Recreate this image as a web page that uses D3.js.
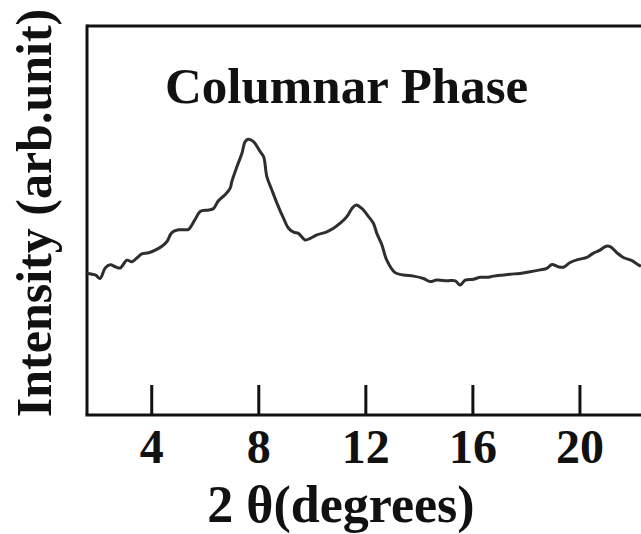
<!DOCTYPE html>
<html>
<head>
<meta charset="utf-8">
<script src="https://cdn.jsdelivr.net/npm/d3@7"></script>
<style>
  html, body { margin: 0; padding: 0; background: #fff; }
  svg { display: block; }
  text { font-family: "Liberation Serif", "Times New Roman", serif; font-weight: bold; fill: #111; }
</style>
</head>
<body>
<svg id="chart" width="641" height="534"></svg>
<script>
// 2θ (degrees)
const twoTheta = [1.60,1.91,2.09,2.28,2.47,2.66,2.84,3.09,3.28,3.47,3.65,3.90,4.15,4.40,4.59,4.77,5.02,5.27,5.39,5.64,5.83,6.14,6.33,6.51,6.76,6.95,7.01,
  7.20,7.39,7.51,7.63,7.82,8.07,8.20,8.32,8.51,8.70,8.94,9.13,9.32,9.50,9.75,9.94,10.19,10.56,10.81,11.06,11.31,11.50,11.66,11.87,12.12,12.30,12.43,12.62,
  12.80,13.11,13.42,13.80,14.17,14.42,14.67,15.05,15.36,15.54,15.73,16.04,16.29,16.54,16.79,17.16,
  17.41,17.78,18.16,18.53,18.78,18.97,19.21,19.40,19.65,19.96,20.28,20.52,20.77,21.00,21.15,21.40,21.64,21.96,22.20,22.30];
// Intensity (arb. unit)
const intensity = [36.4,36.0,35.1,37.8,38.6,38.1,37.8,39.8,39.4,40.4,41.4,41.7,42.4,43.4,44.6,46.9,47.6,47.6,47.7,50.3,52.3,52.7,53.1,55.1,56.6,58.3,60.0,
  63.8,67.3,70.3,70.9,70.3,67.7,66.4,61.3,57.8,54.4,50.6,48.0,47.0,46.7,45.0,45.4,46.3,47.1,48.0,49.3,51.0,53.1,54.0,53.1,51.0,49.3,46.7,43.7,
  39.8,36.6,36.0,35.7,35.1,34.3,34.7,34.5,34.5,33.4,34.7,34.9,35.4,35.4,35.7,36.0,
  36.2,36.4,36.8,37.3,37.7,38.7,38.1,38.0,39.2,40.0,40.5,41.6,42.4,43.4,43.3,41.7,40.5,39.7,38.6,38.3];
const xTicks = [4, 8, 12, 16, 20];
const titleText = "Columnar Phase";
const xLabel = "2 θ(degrees)";
const yLabel = "Intensity (arb.unit)";

(function () {
const svg = d3.select("#chart");
const mLeft = 87, mRight = 641, mTop = 26, mBottom = 415;

const x = d3.scaleLinear().domain([1.6, 22.3]).range([mLeft, mRight]);
const y = d3.scaleLinear().domain([0, 100]).range([mBottom, mTop]);

const data = twoTheta.map((t, i) => ({ t, v: intensity[i] }));

// frame: top and left borders
svg.append("line").attr("x1", mLeft).attr("x2", mRight + 5).attr("y1", mTop).attr("y2", mTop)
  .attr("stroke", "#111").attr("stroke-width", 3);
svg.append("line").attr("x1", mLeft).attr("x2", mLeft).attr("y1", mTop - 1.5).attr("y2", mBottom)
  .attr("stroke", "#111").attr("stroke-width", 3);

// x axis with inward ticks
const xAxis = d3.axisBottom(x).tickValues(xTicks).tickSize(-30).tickSizeOuter(0).tickPadding(0);
const gx = svg.append("g").attr("transform", `translate(0,${mBottom})`).call(xAxis);
gx.select(".domain").attr("stroke", "#111").attr("stroke-width", 3)
  .attr("d", `M${mLeft - 1.5},0H${mRight + 5}`);
gx.selectAll(".tick line").attr("stroke", "#111").attr("stroke-width", 3);
gx.selectAll(".tick text")
  .attr("dy", null).attr("y", 48)
  .style("font-family", '"Liberation Serif", "Times New Roman", serif')
  .style("font-weight", "bold").style("font-size", "48px").attr("fill", "#111");

// curve
const line = d3.line().x(d => x(d.t)).y(d => y(d.v)).curve(d3.curveCatmullRom.alpha(0.5));
svg.append("path").datum(data).attr("d", line)
  .attr("fill", "none").attr("stroke", "#2e2e2e").attr("stroke-width", 3)
  .attr("stroke-linejoin", "round");

// title
svg.append("text").attr("x", 165).attr("y", 103).style("font-size", "51px").text(titleText);

// x label
svg.append("text").attr("x", 341).attr("y", 522).attr("text-anchor", "middle")
  .style("font-size", "52px").text(xLabel);

// y label
svg.append("text").attr("transform", "translate(51,213) rotate(-90)").attr("text-anchor", "middle")
  .style("font-size", "50px").text(yLabel);
})();
</script>
</body>
</html>
